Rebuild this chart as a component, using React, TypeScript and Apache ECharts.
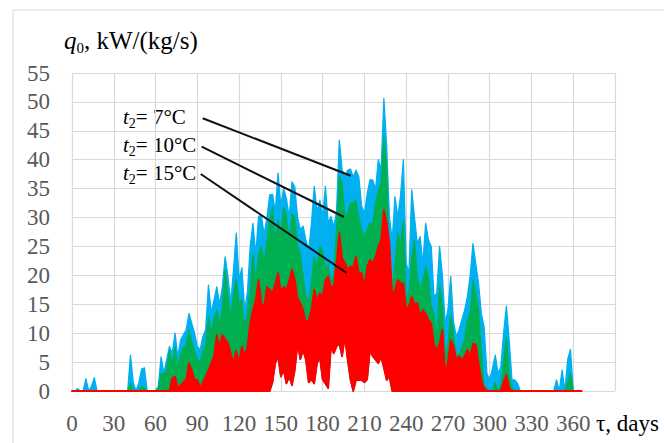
import React, { useEffect, useRef } from "react";
import * as echarts from "echarts";

// Sampling step of the series below (days); index i -> day i * DAY_STEP (0..366)
const DAY_STEP = 2;

// q0 peak envelope, t2 = 7 °C (blue)
const blueMax = [
  0, 0, 0.4, 0, 0, 2.1, 0, 0.8, 2.3, 0,
  0, 0, 0, 0, 0, 0, 0, 0, 0, 0,
  0, 6.2, 1.5, 0, 1.4, 3.8, 4.0, 0, 0, 0,
  0, 0.8, 5.9, 3.1, 5.4, 7.7, 6.5, 10.0, 5.9, 8.8,
  9.7, 10.6, 13.4, 11.7, 10.0, 7.7, 7.1, 9.4, 10.6, 18.3,
  13.5, 15.7, 18.0, 15.0, 18.0, 23.2, 19.8, 15.2, 20.9, 27.3,
  19.2, 21.3, 14.0, 17.0, 25.0, 29.0, 23.5, 30.2, 30.4, 27.0,
  30.0, 33.9, 34.0, 31.0, 37.7, 32.0, 35.0, 33.3, 30.0, 36.2,
  35.3, 30.0, 27.9, 28.5, 26.1, 24.4, 29.0, 35.4, 31.0, 33.0,
  30.0, 35.4, 29.0, 30.2, 28.4, 31.0, 43.4, 38.2, 37.0, 38.2,
  38.4, 37.0, 38.2, 37.0, 32.0, 30.7, 34.0, 36.5, 36.5, 34.8,
  40.0, 38.2, 50.6, 42.3, 30.0, 26.1, 33.6, 30.0, 33.9, 40.0,
  22.1, 20.4, 34.8, 30.0, 25.5, 26.7, 22.0, 29.0, 26.1, 25.0,
  16.3, 16.9, 25.0, 20.0, 11.7, 14.0, 19.8, 12.0, 9.4, 10.6,
  12.3, 14.0, 16.3, 20.0, 25.5, 22.0, 18.6, 13.4, 11.1, 3.0,
  2.0, 3.9, 6.2, 3.0, 4.2, 10.0, 14.7, 8.8, 1.9, 1.9,
  1.3, 0, 0, 0, 0, 0, 0, 0, 0, 0,
  0, 0, 0, 0, 1.9, 0, 3.6, 0, 5.4, 7.2,
  0, 0, 0, 0,
];

// q0 peak envelope, t2 = 10 °C (green)
const greenMax = [
  0, 0, 0, 0, 0, 0, 0, 0, 0, 0,
  0, 0, 0, 0, 0, 0, 0, 0, 0, 0,
  0, 1.4, 0, 0, 0, 0.8, 0.5, 0, 0, 0,
  0, 0.5, 3.0, 3.1, 3.5, 7.0, 4.5, 7.7, 4.0, 6.5,
  7.5, 8.0, 10.6, 8.5, 7.0, 5.5, 5.0, 7.0, 8.0, 12.9,
  10.0, 12.5, 14.0, 11.5, 14.5, 21.0, 16.5, 12.5, 17.0, 19.2,
  15.0, 15.8, 11.0, 13.5, 18.0, 23.8, 19.0, 23.8, 25.0, 22.0,
  26.0, 29.6, 31.9, 26.0, 29.6, 27.0, 31.9, 30.2, 26.0, 30.7,
  30.2, 25.0, 23.8, 19.8, 16.3, 15.7, 19.0, 23.2, 21.5, 25.0,
  24.4, 21.0, 22.0, 18.6, 20.4, 28.0, 37.1, 36.0, 30.2, 30.7,
  32.5, 32.5, 33.0, 30.0, 27.9, 26.7, 28.0, 29.0, 29.0, 32.5,
  34.8, 35.9, 44.0, 38.2, 21.0, 17.5, 22.1, 27.3, 25.5, 29.6,
  16.0, 17.0, 23.2, 26.1, 20.0, 17.5, 19.2, 21.5, 19.8, 14.6,
  13.4, 9.4, 18.6, 14.6, 6.0, 8.0, 13.4, 10.0, 6.0, 6.5,
  7.7, 9.0, 12.3, 13.4, 19.2, 17.0, 14.0, 7.1, 0.7, 0.5,
  0, 0, 1.5, 0, 1.0, 5.0, 9.4, 3.0, 0.5, 0,
  0, 0, 0, 0, 0, 0, 0, 0, 0, 0,
  0, 0, 0, 0, 0, 0, 0, 0, 1.5, 3.0,
  0, 0, 0, 0,
];

// q0 peak envelope, t2 = 15 °C (red)
const redMax = [
  0, 0, 0, 0, 0, 0, 0, 0, 0, 0,
  0, 0, 0, 0, 0, 0, 0, 0, 0, 0,
  0, 0, 0, 0, 0, 0, 0, 0, 0, 0,
  0, 0, 0, 0, 0, 0, 2.2, 2.5, 0.5, 1.0,
  1.5, 2.0, 4.8, 3.6, 2.0, 1.9, 0.5, 1.5, 2.5, 3.6,
  4.8, 6.0, 9.7, 7.5, 9.7, 9.0, 8.3, 6.5, 4.8, 7.0,
  4.8, 7.7, 6.0, 7.7, 11.7, 14.0, 15.8, 19.2, 15.2, 14.5,
  18.0, 17.5, 16.9, 18.5, 20.4, 17.0, 18.0, 17.5, 19.0, 21.0,
  19.2, 16.0, 15.2, 14.0, 11.7, 12.3, 14.0, 17.5, 15.7, 16.9,
  16.3, 19.2, 19.8, 18.0, 18.0, 22.1, 27.3, 23.0, 22.1, 21.0,
  21.5, 21.5, 23.2, 20.4, 20.4, 18.0, 21.5, 22.7, 22.1, 23.2,
  25.0, 26.1, 31.3, 29.0, 25.5, 16.3, 17.5, 19.2, 18.6, 18.6,
  14.0, 14.6, 16.3, 15.0, 15.2, 13.0, 14.0, 13.4, 12.3, 11.7,
  8.0, 7.1, 8.2, 10.6, 3.0, 5.0, 8.8, 7.7, 5.4, 6.0,
  5.4, 6.0, 7.1, 6.0, 8.2, 8.0, 4.8, 1.9, 0.5, 0,
  0, 0, 0, 0, 0, 1.5, 2.8, 0.5, 0, 0,
  0, 0, 0, 0, 0, 0, 0, 0, 0, 0,
  0, 0, 0, 0, 0, 0, 0, 0, 0, 0,
  0, 0, 0, 0,
];

// lowest (night-time) q0 reached by the curves (white gaps under the bands)
const nightLow = [
  0, 0, 0, 0, 0, 0, 0, 0, 0, 0,
  0, 0, 0, 0, 0, 0, 0, 0, 0, 0,
  0, 0, 0, 0, 0, 0, 0, 0, 0, 0,
  0, 0, 0, 0, 0, 0, 0, 0, 0, 0,
  0, 0, 0, 0, 0, 0, 0, 0, 0, 0,
  0, 0, 0, 0, 0, 0, 0, 0, 0, 0,
  0, 0, 0, 0, 0, 0, 0, 0, 0, 0,
  0, 0, 1.5, 4.8, 6.0, 2.5, 3.6, 1.3, 2.5, 1.0,
  3.6, 8.2, 5.5, 7.1, 5.4, 1.5, 2.0, 1.3, 4.8, 5.9,
  2.0, 1.3, 0.5, 7.7, 6.5, 7.7, 8.2, 6.0, 9.4, 5.4,
  2.0, 0, 1.9, 1.9, 1.9, 1.5, 2.0, 7.1, 6.0, 5.4,
  4.8, 5.9, 4.0, 1.9, 2.5, 0, 0, 0, 0, 0,
  0, 0, 0, 0, 0, 0, 0, 0, 0, 0,
  0, 0, 0, 0, 0, 0, 0, 0, 0, 0,
  0, 0, 0, 0, 0, 0, 0, 0, 0, 0,
  0, 0, 0, 0, 0, 0, 0, 0, 0, 0,
  0, 0, 0, 0, 0, 0, 0, 0, 0, 0,
  0, 0, 0, 0, 0, 0, 0, 0, 0, 0,
  0, 0, 0, 0,
];

const days = blueMax.map((_, i) => i * DAY_STEP);

const xTickLabels = [0, 30, 60, 90, 120, 150, 180, 210, 240, 270, 300, 330, 360];
const seriesNames = ["t2 = 7°C", "t2 = 10°C", "t2 = 15°C"];
const annotationTemps = ["7°C", "10°C", "15°C"];

const FONT = "Liberation Serif";

export default function App() {
  const ref = useRef<HTMLDivElement>(null);

  useEffect(() => {
    if (!ref.current) return;
    const chart = echarts.init(ref.current, undefined, { renderer: "svg" });

    const defs = [
      { name: seriesNames[0], high: blueMax, color: "#00B0F0", width: 1.3 },
      { name: seriesNames[1], high: greenMax, color: "#00B050", width: 1.2 },
      { name: seriesNames[2], high: redMax, color: "#FF0000", width: 1.8 },
    ];

    const series = defs.map((def) => ({
      type: "custom",
      name: def.name,
      coordinateSystem: "cartesian2d",
      silent: true,
      data: [[0, 0]],
      renderItem: (params: any, api: any) => {
        if (params.dataIndex !== 0) return null;
        const pts: number[][] = [];
        for (let i = 0; i < days.length; i++) pts.push(api.coord([days[i], def.high[i]]));
        for (let i = days.length - 1; i >= 0; i--)
          pts.push(api.coord([days[i], Math.min(nightLow[i], def.high[i])]));
        return {
          type: "polygon",
          shape: { points: pts },
          style: { fill: def.color, stroke: def.color, lineWidth: def.width, lineJoin: "round" },
        };
      },
    }));

    const annTexts = annotationTemps.map((t, k) => ({
      type: "text",
      x: 123,
      y: 116.6 + k * 28,
      style: {
        text: `{i|t}{s|2}{n|= ${t}}`,
        verticalAlign: "middle",
        rich: {
          i: { fontFamily: FONT, fontStyle: "italic", fontSize: 21, lineHeight: 27, fill: "#000" },
          s: { fontFamily: FONT, fontSize: 14, lineHeight: 14, verticalAlign: "bottom", fill: "#000" },
          n: { fontFamily: FONT, fontSize: 21, lineHeight: 27, fill: "#000" },
        },
      },
      silent: true,
    }));

    const annLines = [
      [202.7, 118.3, 350.7, 175.7],
      [201.7, 146.7, 344, 217],
      [200.7, 174, 346.7, 273],
    ].map(([x1, y1, x2, y2]) => ({
      type: "line",
      shape: { x1, y1, x2, y2 },
      style: { stroke: "#111", lineWidth: 2 },
      silent: true,
      z: 100,
    }));

    chart.setOption({
      animation: false,
      backgroundColor: "#fff",
      textStyle: { fontFamily: FONT },
      grid: { left: 72, right: 49, top: 73, bottom: 52, containLabel: false },
      xAxis: {
        type: "value",
        min: 0,
        max: 390,
        interval: 30,
        axisLine: { show: false },
        axisTick: { show: false },
        splitLine: { show: true, lineStyle: { color: "#d9d9d9", width: 1.2 } },
        axisLabel: {
          margin: 20,
          fontFamily: FONT,
          fontSize: 23,
          lineHeight: 24,
          color: "#595959",
          formatter: (v: number) => (xTickLabels.includes(v) ? String(v) : ""),
        },
      },
      yAxis: {
        type: "value",
        min: 0,
        max: 55,
        interval: 5,
        axisLine: { show: false },
        axisTick: { show: false },
        splitLine: { show: true, lineStyle: { color: "#d9d9d9", width: 1.2 } },
        axisLabel: { margin: 22, fontFamily: FONT, fontSize: 23, color: "#595959" },
      },
      series,
      graphic: [
        {
          type: "rect",
          shape: { x: 13, y: 10, width: 700, height: 500 },
          style: { fill: "none", stroke: "#d9d9d9", lineWidth: 1 },
          silent: true,
          z: -10,
        },
        {
          type: "text",
          x: 64,
          y: 40,
          style: {
            text: "{i|q}{s|0}{n|, kW/(kg/s)}",
            verticalAlign: "middle",
            rich: {
              i: { fontFamily: FONT, fontStyle: "italic", fontSize: 25, lineHeight: 31, fill: "#000" },
              s: { fontFamily: FONT, fontSize: 15, lineHeight: 15, verticalAlign: "bottom", fill: "#000" },
              n: { fontFamily: FONT, fontSize: 25, lineHeight: 31, fill: "#000" },
            },
          },
          silent: true,
        },
        ...annTexts,
        ...annLines,
        {
          type: "text",
          x: 596,
          y: 423,
          style: {
            text: "τ, days",
            fontFamily: FONT,
            fontSize: 23,
            fill: "#000",
            verticalAlign: "middle",
          },
          silent: true,
        },
      ],
    });

    return () => chart.dispose();
  }, []);

  return (
    <div
      ref={ref}
      style={{ position: "fixed", left: 0, top: 0, width: 664, height: 443, background: "#fff" }}
    />
  );
}
